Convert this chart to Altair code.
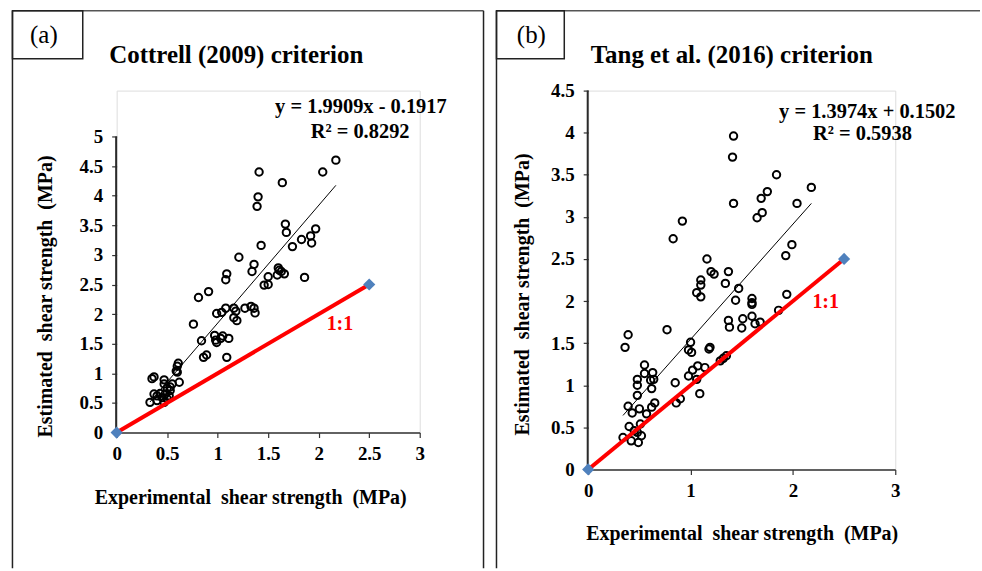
import altair as alt
import pandas as pd

# ---------------- data ----------------
a_exp = [2.17, 2.04, 1.41, 1.64, 1.40, 1.39, 1.67, 1.68, 1.97, 1.92, 1.83, 1.93, 1.74, 1.43,
         1.21, 1.36, 1.34, 1.09, 1.08, 1.60, 1.61, 1.63, 1.66, 1.59, 1.50, 1.86, 1.46, 1.50,
         0.91, 0.81, 1.08, 1.16, 1.18, 1.27, 1.33, 1.36, 1.37, 0.99, 1.04, 1.16, 1.19, 0.76,
         0.84, 0.97, 1.05, 1.11, 0.99, 1.03, 0.98, 0.86, 0.89, 1.09, 0.61, 0.60, 0.59, 0.60,
         0.62, 0.35, 0.37, 0.47, 0.47, 0.53, 0.55, 0.33, 0.37, 0.40, 0.40, 0.43, 0.45, 0.48,
         0.47, 0.50, 0.52, 0.53, 0.50]
a_est = [4.60, 4.40, 4.40, 4.22, 3.98, 3.82, 3.52, 3.38, 3.44, 3.32, 3.26, 3.20, 3.14, 3.16,
         2.96, 2.84, 2.72, 2.68, 2.58, 2.78, 2.74, 2.72, 2.68, 2.66, 2.63, 2.62, 2.49, 2.50,
         2.38, 2.28, 2.10, 2.10, 2.05, 2.10, 2.13, 2.10, 2.02, 2.01, 2.03, 1.94, 1.89, 1.83,
         1.55, 1.64, 1.63, 1.59, 1.52, 1.59, 1.56, 1.27, 1.31, 1.27, 1.17, 1.12, 1.04, 1.02,
         0.85, 0.91, 0.94, 0.89, 0.82, 0.77, 0.82, 0.51, 0.65, 0.62, 0.54, 0.66, 0.59, 0.65,
         0.51, 0.57, 0.62, 0.71, 0.75]

b_exp = [1.42, 1.41, 1.84, 1.75, 1.69, 2.18, 1.42, 2.04, 1.70, 1.65, 0.92, 0.83, 1.99, 1.93,
         1.16, 1.20, 1.23, 1.37, 1.10, 1.10, 1.06, 1.10, 1.34, 1.47, 1.44, 1.60, 1.60, 1.60,
         1.94, 1.86, 1.37, 1.38, 1.51, 1.50, 1.60, 1.63, 1.68, 0.39, 0.36, 0.77, 1.00, 0.98,
         1.01, 1.18, 1.19, 1.29, 1.32, 1.35, 0.55, 0.63, 0.55, 0.48, 0.61, 0.48, 0.62, 0.98,
         1.02, 1.07, 1.14, 1.06, 0.85, 1.09, 0.86, 0.90, 0.48, 0.39, 0.43, 0.50, 0.57, 0.62,
         0.65, 0.40, 0.51, 0.45, 0.34, 0.42, 0.49, 0.52, 0.48, 0.64]
b_est = [3.96, 3.71, 3.50, 3.30, 3.22, 3.35, 3.16, 3.16, 3.05, 2.99, 2.95, 2.74, 2.67, 2.54,
         2.50, 2.35, 2.32, 2.35, 2.25, 2.19, 2.10, 2.05, 2.21, 2.15, 2.01, 2.03, 1.98, 1.96,
         2.08, 1.89, 1.77, 1.69, 1.79, 1.68, 1.82, 1.73, 1.75, 1.60, 1.45, 1.66, 1.51, 1.42,
         1.39, 1.43, 1.45, 1.29, 1.32, 1.35, 1.24, 1.15, 1.14, 1.07, 1.06, 1.00, 0.96, 1.11,
         1.18, 1.23, 1.21, 1.07, 1.03, 0.90, 0.79, 0.84, 0.88, 0.75, 0.67, 0.72, 0.66, 0.74,
         0.79, 0.51, 0.54, 0.46, 0.38, 0.34, 0.32, 0.40, 0.44, 1.07]

one_to_one = [0.0, 2.5]

a_xticks = [0, 0.5, 1, 1.5, 2, 2.5, 3]
a_yticks = [0, 0.5, 1, 1.5, 2, 2.5, 3, 3.5, 4, 4.5, 5]
b_xticks = [0, 1, 2, 3]
b_yticks = [0, 0.5, 1, 1.5, 2, 2.5, 3, 3.5, 4, 4.5]

a_eq = ["y = 1.9909x - 0.1917", "R\u00b2 = 0.8292"]
b_eq = ["y = 1.3974x + 0.1502", "R\u00b2 = 0.5938"]

XTITLE = "Experimental\u00a0 shear strength\u00a0 (MPa)"
YTITLE = "Estimated\u00a0 shear strength\u00a0 (MPa)"

FONT = "Liberation Serif"
AXC = "#333333"


def panel(exp, est, xticks, ydom, yticks, W, H, yrange, eq, eq_xy, one_xy,
          xt, yt, title, title_xy, tag, tag_xy, box, frame, right_frame, top_x2, bottom):
    df = pd.DataFrame({"exp": exp, "est": est})
    common = dict(grid=False, domainColor=AXC, domainWidth=1.5, tickColor=AXC, tickSize=5,
                  tickWidth=1.2,
                  labelFont=FONT, labelFontSize=19, labelFontWeight="bold", labelColor="black",
                  titleFont=FONT, titleFontSize=20, titleFontWeight="bold", titleColor="black",
                  labelFlush=False, labelOverlap=False, titleBaseline="middle", format="~g")
    xenc = alt.X("exp:Q", scale=alt.Scale(domain=[0, 3], nice=False),
                 axis=alt.Axis(values=xticks, title=XTITLE, labelPadding=7,
                               titleX=xt[0], titleY=xt[1], **common))
    yscale = alt.Scale(domain=ydom, nice=False, range=yrange)
    yenc = alt.Y("est:Q", scale=yscale,
                 axis=alt.Axis(values=yticks, title=YTITLE, labelPadding=9,
                               titleX=yt[0], titleY=yt[1], domain=False, **common))

    pts = alt.Chart(df).mark_point(shape="circle", filled=False, color="black",
                                   strokeWidth=2, size=55, opacity=1).encode(x=xenc, y=yenc)
    trend = alt.Chart(df).transform_regression("exp", "est").mark_line(
        color="black", strokeWidth=1).encode(x=xenc, y=yenc)
    odf = pd.DataFrame({"exp": one_to_one, "est": one_to_one})
    red = alt.Chart(odf).mark_line(color="#FF0000", strokeWidth=4).encode(x=xenc, y=yenc)
    dia = alt.Chart(odf).mark_point(shape="diamond", filled=True, color="#4F81BD",
                                    size=150, opacity=1).encode(x=xenc, y=yenc)
    eqdf = pd.DataFrame({"exp": [eq_xy[0][0], eq_xy[1][0]],
                         "est": [eq_xy[0][1], eq_xy[1][1]], "t": eq})
    eqt = alt.Chart(eqdf).mark_text(font=FONT, fontSize=20.5, fontWeight="bold", color="black",
                                    align="center", baseline="middle").encode(
        x=xenc, y=yenc, text="t:N")
    onedf = pd.DataFrame({"exp": [one_xy[0]], "est": [one_xy[1]], "t": ["1:1"]})
    onet = alt.Chart(onedf).mark_text(font=FONT, fontSize=20, fontWeight="bold", color="#FF0000",
                                      align="center", baseline="middle").encode(
        x=xenc, y=yenc, text="t:N")

    one = pd.DataFrame({"d": [0]})
    ttl = alt.Chart(one).mark_text(font=FONT, fontSize=25, fontWeight="bold", color="black",
                                   align="center", baseline="middle").encode(
        x=alt.value(title_xy[0]), y=alt.value(title_xy[1]), text=alt.value(title))
    tg = alt.Chart(one).mark_text(font=FONT, fontSize=25, color="black",
                                  align="center", baseline="middle").encode(
        x=alt.value(tag_xy[0]), y=alt.value(tag_xy[1]), text=alt.value(tag))
    bx = alt.Chart(one).mark_rect(fillOpacity=0, stroke="#222222", strokeWidth=1.5).encode(
        x=alt.value(box[0]), x2=alt.value(box[1]), y=alt.value(box[2]), y2=alt.value(box[3]))
    fl, ft = frame
    top_rule = alt.Chart(one).mark_rule(color="#555555", strokeWidth=1.5).encode(
        x=alt.value(fl), x2=alt.value(top_x2), y=alt.value(ft))
    left_rule = alt.Chart(one).mark_rule(color="#222222", strokeWidth=1.5).encode(
        x=alt.value(fl), y=alt.value(ft), y2=alt.value(bottom))
    # y-axis line, drawn only over the pixel span of this panel's y-scale range
    yline = alt.Chart(one).mark_rule(color="#2a2a2a", strokeWidth=2).encode(
        x=alt.value(-0.5), y=alt.value(yrange[1]), y2=alt.value(yrange[0]))
    layers = [top_rule, left_rule, yline]
    if right_frame is not None:
        layers.append(alt.Chart(one).mark_rule(color="#222222", strokeWidth=1.5).encode(
            x=alt.value(right_frame), y=alt.value(ft), y2=alt.value(bottom)))
    layers += [bx, tg, ttl, pts, trend, red, dia, eqt, onet]
    return alt.layer(*layers).properties(width=W, height=H)


# both plot areas start at the same top; panel (a)'s y-scale uses only the lower part
pa = panel(a_exp, a_est, a_xticks, [0, 5], a_yticks, 304, 343, [343, 46], a_eq,
           [(2.418, 5.49), (2.41, 5.08)], (2.21, 1.835),
           (134, 65), (-71, 206), "Cottrell (2009) criterion", (120, -36),
           "(a)", (-73, -56), (-104.5, -34, -80, -32), (-104.5, -80), 368, 368, 479)

pb = panel(b_exp, b_est, b_xticks, [0, 4.5], b_yticks, 308, 380, [380, 0], b_eq,
           [(2.727, 4.25), (2.68, 3.98)], (2.32, 1.99),
           (154, 64), (-66, 204), "Tang et al. (2016) criterion", (144, -36),
           "(b)", (-57, -56), (-92, -24, -80, -32), (-92, -80), None, 393, 479)

chart = alt.hconcat(pa, pb, spacing=9).properties(
    padding={"left": 11, "top": 8, "right": 0, "bottom": 0}
).configure_view(strokeWidth=0).configure(background="white")

chart.save("out.html", embed_options={"renderer": "svg", "actions": False})
